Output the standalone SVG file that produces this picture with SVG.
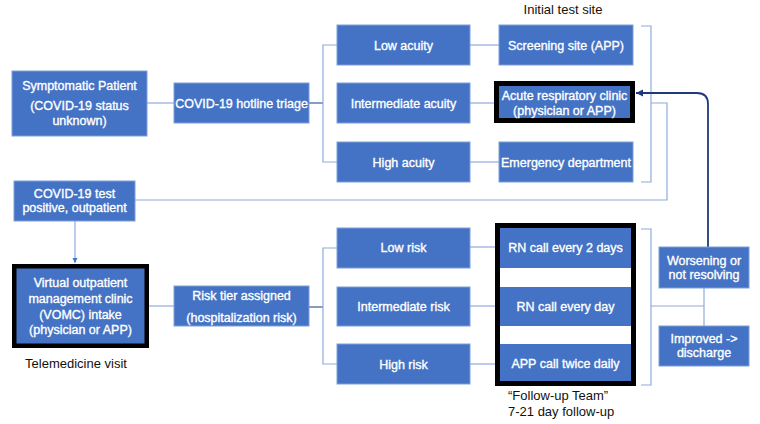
<svg xmlns="http://www.w3.org/2000/svg" width="760" height="424" viewBox="0 0 760 424">
<defs>
<style>
.box{fill:#4472C4;stroke:#7f9fd8;stroke-width:1}
.bold{fill:#4472C4;stroke:#000;}
.frame{fill:#fff;stroke:#000;stroke-width:5}
.t{font-family:"Liberation Sans",Arial,sans-serif;font-size:12.5px;fill:#fff;stroke:#fff;stroke-width:0.35;text-anchor:middle}
.k{font-family:"Liberation Sans",Arial,sans-serif;font-size:13px;fill:#111}
.c{fill:none;stroke:#8faadc;stroke-width:1.2}
.cd{fill:none;stroke:#3a5a9a;stroke-width:1.2}
.nav{fill:none;stroke:#1f3a7a;stroke-width:1.8}
</style>
<marker id="ah" markerUnits="userSpaceOnUse" markerWidth="8" markerHeight="8" refX="7" refY="4" orient="auto">
<path d="M0,0.5 L7,4 L0,7.5 Z" fill="#1f3a7a"/>
</marker>
<marker id="ab" markerUnits="userSpaceOnUse" markerWidth="6" markerHeight="6" refX="5" refY="3" orient="auto">
<path d="M0,0.5 L5,3 L0,5.5 Z" fill="#4472C4"/>
</marker>
</defs>
<rect width="760" height="424" fill="#fff"/>

<g id="connectors">
<path class="c" d="M147 103 H174"/>
<path class="cd" d="M309 103 H323"/>
<path class="c" d="M337 45 H323 V162 H337"/>
<path class="c" d="M470 45 H499"/>
<path class="c" d="M470 103 H494"/>
<path class="c" d="M470 162 H499"/>
<path class="c" d="M641 26 H651 V182 H641"/>
<path class="c" d="M651 103 H667 V200 H135"/>
<path class="c" d="M75 221 V263" stroke="#4472C4" marker-end="url(#ab)"/>
<path class="c" d="M149 306 H174"/>
<path class="cd" d="M309 307 H323"/>
<path class="c" d="M337 248 H323 V364 H337"/>
<path class="c" d="M470 247 H495"/>
<path class="c" d="M470 306 H495"/>
<path class="c" d="M470 364 H495"/>
<path class="c" d="M641 229 H651 V385 H641"/>
<path class="c" d="M651 306 H704"/>
<path class="c" d="M704 288 V326"/>
<path class="nav" d="M708 247 V104 Q708 93 697 93 H636" marker-end="url(#ah)"/>
</g>

<g id="title"><text class="k" x="563" y="13.5" text-anchor="middle">Initial test site</text></g>

<g id="symptomatic">
<rect class="box" x="12" y="71" width="135" height="65"/>
<text class="t" x="79.5" y="89.5">Symptomatic Patient</text>
<text class="t" x="79.5" y="109.5">(COVID-19 status</text>
<text class="t" x="79.5" y="124.5">unknown)</text>
</g>
<g id="hotline">
<rect class="box" x="174" y="83" width="135" height="40"/>
<text class="t" x="241.5" y="107.5">COVID-19 hotline triage</text>
</g>
<g id="low-acuity">
<rect class="box" x="337" y="25" width="133" height="40"/>
<text class="t" x="403.5" y="49.5">Low acuity</text>
</g>
<g id="int-acuity">
<rect class="box" x="337" y="83" width="133" height="40"/>
<text class="t" x="403.5" y="107.5">Intermediate acuity</text>
</g>
<g id="high-acuity">
<rect class="box" x="337" y="142" width="133" height="40"/>
<text class="t" x="403.5" y="166.5">High acuity</text>
</g>
<g id="screening">
<rect class="box" x="499" y="25" width="134" height="40"/>
<text class="t" x="566" y="49.5">Screening site (APP)</text>
</g>
<g id="acute-clinic">
<rect class="bold" x="496.5" y="83.5" width="136" height="37" stroke-width="5"/>
<text class="t" x="564.5" y="99.5">Acute respiratory clinic</text>
<text class="t" x="564.5" y="114.5">(physician or APP)</text>
</g>
<g id="emergency">
<rect class="box" x="499" y="142" width="134" height="40"/>
<text class="t" x="566" y="166.5">Emergency department</text>
</g>

<g id="test-positive">
<rect class="box" x="14" y="181" width="121" height="40"/>
<text class="t" x="74.5" y="197.5">COVID-19 test</text>
<text class="t" x="74.5" y="211.5">positive, outpatient</text>
</g>
<g id="vomc">
<rect class="bold" x="14.25" y="266.25" width="132.5" height="79.5" stroke-width="4.5"/>
<text class="t" x="80.5" y="286.5">Virtual outpatient</text>
<text class="t" x="80.5" y="302.5">management clinic</text>
<text class="t" x="80.5" y="318.5">(VOMC) intake</text>
<text class="t" x="80.5" y="333.5">(physician or APP)</text>
<text class="k" x="76" y="367.5" text-anchor="middle">Telemedicine visit</text>
</g>
<g id="risk-tier">
<rect class="box" x="174" y="286" width="135" height="40"/>
<text class="t" x="241.5" y="299.5">Risk tier assigned</text>
<text class="t" x="241.5" y="321.5">(hospitalization risk)</text>
</g>
<g id="low-risk">
<rect class="box" x="337" y="228" width="133" height="40"/>
<text class="t" x="403.5" y="251.5">Low risk</text>
</g>
<g id="int-risk">
<rect class="box" x="337" y="287" width="133" height="39"/>
<text class="t" x="403.5" y="310.5">Intermediate risk</text>
</g>
<g id="high-risk">
<rect class="box" x="337" y="344" width="133" height="40"/>
<text class="t" x="403.5" y="368.5">High risk</text>
</g>
<g id="follow-up-team">
<rect class="frame" x="497.5" y="225.5" width="136" height="158"/>
<rect x="500" y="228" width="131" height="40" fill="#4472C4"/>
<text class="t" x="565.5" y="251.5">RN call every 2 days</text>
<rect x="500" y="287" width="131" height="39" fill="#4472C4"/>
<text class="t" x="565.5" y="310.5">RN call every day</text>
<rect x="500" y="344" width="131" height="37" fill="#4472C4"/>
<text class="t" x="565.5" y="367.5">APP call twice daily</text>
<text class="k" x="508" y="399.5">“Follow-up Team”</text>
<text class="k" x="508" y="415.5">7-21 day follow-up</text>
</g>
<g id="worsening">
<rect class="box" x="659" y="247" width="90" height="41"/>
<text class="t" x="704" y="264.5">Worsening or</text>
<text class="t" x="704" y="278.5">not resolving</text>
</g>
<g id="improved">
<rect class="box" x="659" y="326" width="90" height="40"/>
<text class="t" x="704" y="342.5">Improved -&gt;</text>
<text class="t" x="704" y="356.5">discharge</text>
</g>
</svg>
